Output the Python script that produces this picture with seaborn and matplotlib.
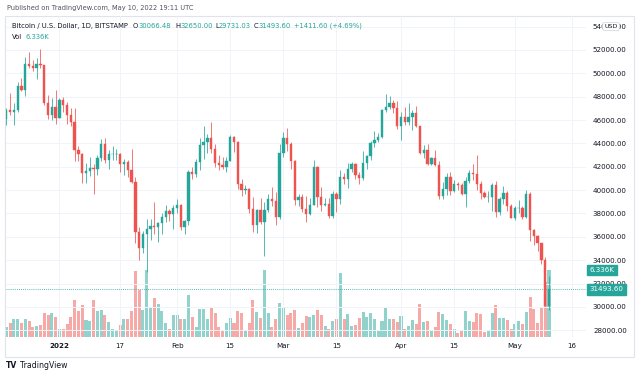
import numpy as np
import pandas as pd
import seaborn as sns
import matplotlib
matplotlib.use("Agg")
import matplotlib.pyplot as plt
import matplotlib.dates as mdates
from matplotlib.patches import Rectangle
from matplotlib.transforms import blended_transform_factory

# === data (BTC/USD daily, Bitstamp) ===
dates = pd.date_range("2021-12-18", "2022-05-10", freq="D")

opens = [
    46130, 46830, 46700, 46900, 48920, 48600, 50800, 50650, 50430, 50800, 50700, 47500, 46450, 47150,
    46200, 47750, 47300, 46450, 45800, 43430, 43050, 41500, 41670, 41880, 41800, 42750, 43930, 42580,
    43070, 43090, 43100, 42230, 42380, 41680, 40700, 36450, 35030, 36280, 36700, 36950, 36850, 37180,
    37720, 38180, 37920,
    38480, 38760, 36880, 37340, 41560, 41400, 42420, 43850, 44080, 44420, 43500, 42360, 42180, 42020,
    42500, 44570, 44120, 40500, 40000, 40100, 38370, 37020, 38270, 37250, 38300, 39230, 39080, 37680,
    43150, 44420, 43930, 42470, 39150, 39420, 38420, 37980, 38720, 41940, 39450, 38750, 38800, 37780,
    39650, 39280, 41100, 40950, 41780, 42220, 41270, 41020, 42350, 42920, 44000, 44300, 44550, 46850,
    47100, 47450, 47070,
    45500, 46300, 45830, 46300, 46600, 45520, 43170, 43450, 42270, 42750, 42170, 39500, 40080, 41150,
    39950, 40550, 40400, 39700, 40800, 41500, 41350, 40500, 39720, 39420, 39450, 40420, 38100, 39230,
    39750, 38600,
    37650, 38450, 38500, 37720, 39680, 36550, 36050, 35450, 34050, 30066.48,
]
highs = [
    47000, 48300, 47500, 49300, 49600, 51400, 51800, 51150, 51300, 52050, 50700, 48150, 47900, 48550,
    47900, 47980, 47560, 47000, 47070, 43780, 43150, 42350, 42800, 42250, 43000, 44350, 44450, 43450,
    43780, 43500, 43200, 42700, 42600, 43520, 41100, 36850, 36500, 37500, 37550, 38950, 37250, 38000,
    38700, 38350, 38700,
    39250, 38850, 37400, 41750, 41950, 42650, 44500, 45480, 44800, 45830, 43950, 43000, 42800, 42850,
    44700, 44600, 44200, 40950, 40450, 40150, 39450, 38400, 39320, 38950, 39650, 40300, 39850, 43950,
    45000, 45350, 44100, 42550, 39650, 39650, 39500, 39350, 42580, 42050, 40250, 39350, 39300, 39900,
    39850, 41700, 41450, 42300, 42400, 42300, 41550, 43350, 43000, 44200, 45100, 44850, 46950, 48200,
    48100, 47700, 47600,
    46700, 47150, 47450, 46850, 47200, 45520, 43900, 43950, 42800, 43450, 42450, 40700, 41500, 41550,
    40850, 40700, 40600, 41100, 41750, 42200, 43000, 40800, 39950, 39900, 40650, 40800, 39450, 40350,
    39900, 38800,
    38650, 39150, 38650, 40050, 39850, 36650, 36150, 35500, 34300, 32650.00,
]
lows = [
    45550, 46450, 45600, 46650, 48450, 48050, 50450, 50200, 49500, 50450, 47300, 46100, 46000, 45700,
    46200, 46700, 45700, 45500, 42500, 42450, 40650, 40600, 41250, 39650, 41300, 42450, 42300, 41850,
    42600, 42600, 41550, 41300, 41150, 40600, 35500, 34010, 34620, 32950, 35700, 36250, 35550, 36200,
    37300, 37350, 36650,
    38050, 36600, 36250, 37050, 40950, 41150, 41700, 42700, 43150, 43200, 42000, 41750, 41850, 41550,
    42450, 43300, 40100, 39500, 39650, 38050, 36450, 36350, 37100, 34350, 38100, 38600, 37050, 37500,
    42850, 43350, 41850, 38700, 38650, 38150, 37250, 37900, 38700, 38550, 38250, 38650, 37600, 37600,
    38150, 38850, 40550, 40150, 41550, 40950, 40500, 40900, 41850, 42600, 43650, 44100, 44450, 46650,
    46950, 46600, 45250,
    44250, 45600, 45550, 45150, 45400, 43100, 42750, 42150, 42150, 42050, 39250, 39250, 39600, 39600,
    39800, 40050, 39550, 38550, 40600, 40850, 40000, 39200, 39300, 38950, 38200, 37700, 37900, 38850,
    38200, 37600,
    37400, 38050, 37500, 37650, 35600, 35300, 34800, 33700, 30050, 29731.03,
]
closes = [
    46830, 46700, 46900, 48920, 48600, 50800, 50650, 50430, 50800, 50700, 47500, 46450, 47150, 46200,
    47750, 47300, 46450, 45800, 43430, 43050, 41500, 41670, 41880, 41800, 42750, 43930, 42580, 43070,
    43090, 43100, 42230, 42380, 41680, 40700, 36450, 35030, 36280, 36700, 36950, 36850, 37180, 37720,
    38180, 37920, 38480,
    38760, 36880, 37340, 41560, 41400, 42420, 43850, 44080, 44420, 43500, 42360, 42180, 42020, 42500,
    44570, 44120, 40500, 40000, 40100, 38370, 37020, 38270, 37250, 38300, 39230, 39080, 37680, 43150,
    44420, 43930, 42470, 39150, 39420, 38420, 37980, 38720, 41940, 39450, 38750, 38800, 37780, 39650,
    39280, 41100, 40950, 41780, 42220, 41270, 41020, 42350, 42920, 44000, 44300, 44550, 46850, 47100,
    47450, 47070, 45500,
    46300, 45830, 46300, 46600, 45520, 43170, 43450, 42270, 42750, 42170, 39500, 40080, 41150, 39950,
    40550, 40400, 39700, 40800, 41500, 41350, 40500, 39720, 39420, 39450, 40420, 38100, 39230, 39750,
    38600, 37650,
    38450, 38500, 37720, 39680, 36550, 36050, 35450, 34050, 30070, 31493.60,
]
volumes_k = [
    0.90, 1.35, 1.73, 1.67, 1.35, 1.73, 1.55, 0.90, 1.06, 1.15, 2.24, 2.10, 2.24, 1.87,
    0.77, 0.77, 1.20, 1.87, 3.46, 2.50, 3.04, 1.60, 1.54, 3.52, 2.50, 2.56, 2.08, 1.44, 0.77, 0.64,
    1.10, 1.70, 1.70, 2.50, 6.24, 4.48, 2.59, 6.34, 2.81, 3.68, 3.14, 2.43, 1.34, 0.77, 2.05,
    2.11, 1.66, 1.66, 3.94, 1.92, 0.90, 2.66, 2.66, 1.66, 2.72, 2.24, 0.96, 0.58, 1.34, 1.79, 1.34,
    2.50, 2.24, 0.70, 1.34, 3.52, 2.40, 1.79, 6.34, 2.24, 0.96, 1.73, 3.20,
    2.81, 2.11, 2.30, 2.56, 0.83, 1.28, 2.02, 1.92, 2.05, 2.56, 2.11, 1.02, 0.77, 1.50, 1.70, 6.02,
    1.66, 2.18, 1.02, 1.09, 1.79, 2.40, 1.92, 2.24, 1.73, 0.54, 1.56, 2.72, 1.73, 1.66, 1.44,
    1.98, 0.77, 1.06, 1.60, 1.22, 3.10, 1.44, 1.50, 0.61, 0.90, 2.37, 2.21, 1.63, 1.22, 0.77, 0.42,
    0.54, 2.50, 1.50, 1.38, 2.24, 2.18, 0.48, 0.70, 2.24, 2.98, 1.76, 1.79, 1.60, 0.77,
    1.25, 1.50, 1.22, 2.34, 3.74, 2.66, 1.28, 2.72, 5.20, 6.336,
]

last_price = 31493.60
last_vol_label = "6.336K"
price_ticks = list(range(28000, 54001, 2000))
time_ticks = ["2022-01-01", "2022-01-17", "2022-02-01", "2022-02-15", "2022-03-01",
              "2022-03-15", "2022-04-01", "2022-04-15", "2022-05-01", "2022-05-16"]
time_labels = ["2022", "17", "Feb", "15", "Mar", "15", "Apr", "15", "May", "16"]

# === style ===
UP, DOWN = "#26a69a", "#ef5350"
UP_VOL, DOWN_VOL = "#92d2cc", "#f7a9a7"
TXT, GREY, GRID = "#131722", "#50535e", "#f0f3fa"

sns.set_theme(style="white")
plt.rcParams["font.family"] = ["DejaVu Sans"]

W, H = 640, 376
fig = plt.figure(figsize=(W / 100, H / 100), dpi=100)


def px_rect(x0, y0, x1, y1):
    return [x0 / W, 1 - y1 / H, (x1 - x0) / W, (y1 - y0) / H]


ax = fig.add_axes(px_rect(5.5, 16, 586, 337))
ax2 = ax.twinx()

x = mdates.date2num(dates)
o, h, l, c = map(np.asarray, (opens, highs, lows, closes))
up = c >= o

# volume (seaborn, behind the candles)
vol_df = pd.DataFrame({"x": x, "vol": volumes_k, "dir": np.where(up, "up", "down")})
sns.barplot(data=vol_df, x="x", y="vol", hue="dir", palette={"up": UP_VOL, "down": DOWN_VOL},
            native_scale=True, dodge=False, width=0.8, saturation=1, errorbar=None,
            legend=False, linewidth=0, ax=ax2)
ax2.set_ylim(0, 30.36)
ax2.set_xlabel("")
ax2.set_ylabel("")
ax2.set_yticks([])

# candles
cols = np.where(up, UP, DOWN)
ax.vlines(x, l, h, colors=cols, linewidth=0.55, zorder=3)
ax.bar(x, c - o, bottom=o, width=0.62, color=cols, edgecolor=cols, linewidth=0.3, zorder=4)

ax.set_zorder(ax2.get_zorder() + 1)
ax.patch.set_visible(False)

ax.set_ylim(27418, 54912)
xlim = (x[0] - 0.21, x[0] + 152.75)
ax.set_xlim(*xlim)
ax2.set_xlim(*xlim)

ax.axhline(last_price, color=UP, linestyle=(0, (1, 1.5)), linewidth=0.6, zorder=2)

# grid + ticks
tick_x = mdates.date2num(pd.to_datetime(time_ticks))
for tx in tick_x:
    ax.axvline(tx, color=GRID, linewidth=0.7, zorder=0)
for py in price_ticks:
    ax.axhline(py, color=GRID, linewidth=0.7, zorder=0)

ax.set_xticks(tick_x)
ax.set_xticklabels(time_labels)
for lab in ax.get_xticklabels():
    if lab.get_text() == "2022":
        lab.set_fontweight("bold")
ax.tick_params(axis="x", length=0, pad=4, labelsize=5.1, labelcolor=TXT)
ax.yaxis.tick_right()
ax.set_yticks(price_ticks)
ax.set_yticklabels([f"{p:.2f}" for p in price_ticks])
ax.tick_params(axis="y", length=0, pad=5, labelsize=5.1, labelcolor=TXT)
for a in (ax, ax2):
    for s in a.spines.values():
        s.set_visible(False)

# last value boxes on the scale
bt = blended_transform_factory(ax.transAxes, ax.transData)
ax.text(1.0055, last_price, "31493.60", transform=bt, fontsize=5.1, color="white", va="center",
        ha="left", zorder=10, clip_on=False,
        bbox=dict(boxstyle="square,pad=0.35", fc=UP, ec=UP))
bt2 = blended_transform_factory(ax2.transAxes, ax2.transData)
ax2.text(1.0055, volumes_k[-1], last_vol_label, transform=bt2, fontsize=5.1, color="white",
         va="center", ha="left", zorder=10, clip_on=False,
         bbox=dict(boxstyle="square,pad=0.35", fc=UP, ec=UP))
fig.text(611 / W, 1 - 26.5 / H, "USD", fontsize=4.6, color=TXT, ha="center", va="center",
         bbox=dict(boxstyle="round,pad=0.25,rounding_size=0.3", fc="white", ec="#d1d4dc", lw=0.5))

# frame
fig.add_artist(Rectangle((5 / W, 1 - 357 / H), 629 / W, 341 / H, transform=fig.transFigure,
                         fill=False, ec="#e0e3eb", lw=0.8))

# header texts
renderer = fig.canvas.get_renderer()


def fit_size(s, target_px, weight="normal"):
    t = fig.text(0, 0, s, fontsize=10, fontweight=weight)
    w = t.get_window_extent(renderer).width
    t.remove()
    return 10 * target_px / w


def draw_parts(x0, y0, parts, size):
    for s, col in parts:
        t = fig.text(x0 / W, 1 - y0 / H, s, color=col, fontsize=size, va="center", ha="left")
        x0 += t.get_window_extent(renderer).width


pub = "Published on TradingView.com, May 10, 2022 19:11 UTC"
fig.text(7 / W, 1 - 8 / H, pub, fontsize=fit_size(pub, 188), color=GREY, va="center", ha="left")

hsize = fit_size("Bitcoin / U.S. Dollar, 1D, BITSTAMP", 117)
draw_parts(12, 26, [("Bitcoin / U.S. Dollar, 1D, BITSTAMP", TXT)], hsize)
draw_parts(133, 26, [("O", TXT), ("30066.48", UP)], hsize)
draw_parts(175, 26, [("H", TXT), ("32650.00", UP)], hsize)
draw_parts(215, 26, [("L", TXT), ("29731.03", UP)], hsize)
draw_parts(254, 26, [("C", TXT), ("31493.60", UP)], hsize)
draw_parts(294, 26, [("+1411.60 (+4.69%)", UP)], hsize)
draw_parts(12, 37, [("Vol", TXT)], hsize)
draw_parts(26, 37, [(last_vol_label, UP)], hsize)

# footer logo
fig.text(6 / W, 1 - 366 / H, "TV", fontsize=5.5, fontweight="bold", color=TXT, va="center", ha="left")
fig.text(20 / W, 1 - 366 / H, "TradingView", fontsize=5.6, color=TXT, va="center", ha="left")

fig.savefig("out.png", dpi=100, facecolor="white")
